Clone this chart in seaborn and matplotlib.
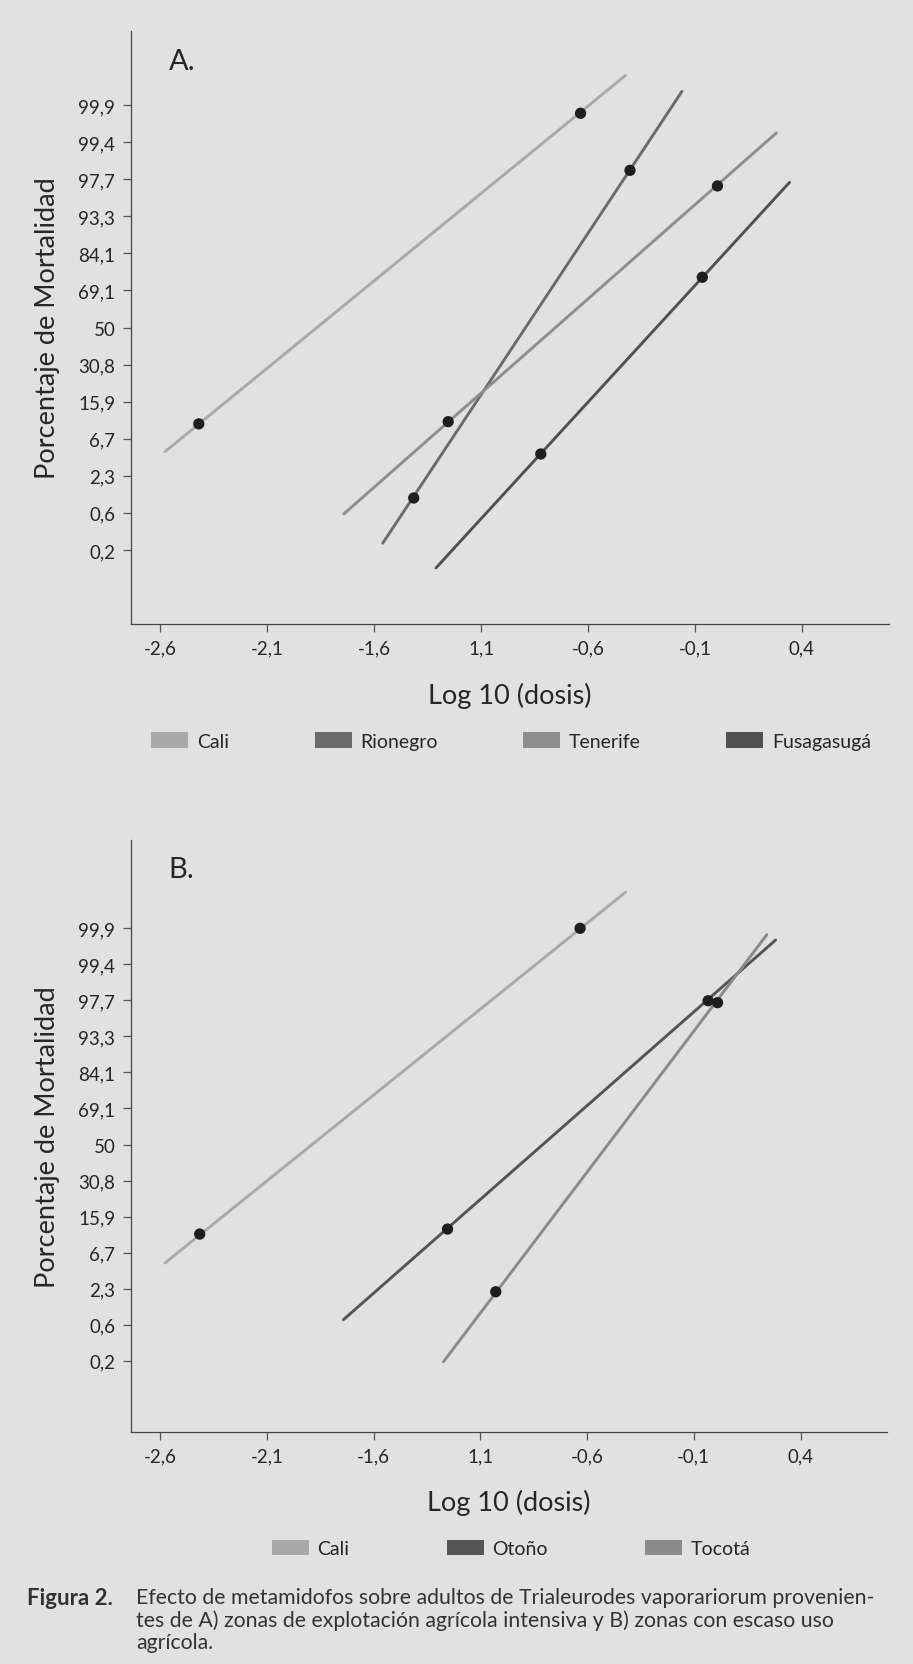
import pandas as pd
import seaborn as sns
from matplotlib import pyplot as plt
from matplotlib.patches import Patch

# probit scale: tick positions 2..8 (step 0.5) labelled with percentages
y_ticks = [2, 2.5, 3, 3.5, 4, 4.5, 5, 5.5, 6, 6.5, 7, 7.5, 8]
y_labels = ["0,2", "0,6", "2,3", "6,7", "15,9", "30,8", "50", "69,1",
            "84,1", "93,3", "97,7", "99,4", "99,9"]
x_ticks = [-2.6, -2.1, -1.6, -1.1, -0.6, -0.1, 0.4]
x_labels = ["-2,6", "-2,1", "-1,6", "1,1", "-0,6", "-0,1", "0,4"]

# panel A: fitted lines (start, end) and observed points
a_names = ["Cali", "Rionegro", "Tenerife", "Fusagasugá"]
a_colors = ["#a9a9a9", "#6b6b6b", "#8e8e8e", "#515151"]
a_line_x = [[-2.578, -0.425], [-1.56, -0.161], [-1.742, 0.280], [-1.311, 0.342]]
a_line_y = [[3.325, 8.40], [2.09, 8.185], [2.485, 7.623], [1.757, 6.958]]
a_pts_x = [[-2.42, -0.635], [-1.415, -0.404], [-1.254, 0.005], [-0.821, -0.066]]
a_pts_y = [[3.70, 7.89], [2.70, 7.12], [3.73, 6.91], [3.294, 5.678]]

# panel B
b_names = ["Cali", "Otoño", "Tocotá"]
b_colors = ["#a9a9a9", "#555555", "#8a8a8a"]
b_line_x = [[-2.578, -0.42], [-1.742, 0.283], [-1.273, 0.242]]
b_line_y = [[3.356, 8.50], [2.569, 7.837], [1.986, 7.911]]
b_pts_x = [[-2.415, -0.633], [-1.254, -0.033], [-1.028, 0.011]]
b_pts_y = [[3.758, 8.00], [3.827, 6.995], [2.957, 6.968]]

BG = "#e1e1e1"
TXT = "#262626"

sns.set_theme(style="ticks")
plt.rcParams["font.family"] = ["Lato", "DejaVu Sans"]
plt.rcParams["axes.facecolor"] = BG
plt.rcParams["figure.facecolor"] = BG
plt.rcParams["text.color"] = TXT
plt.rcParams["axes.labelcolor"] = TXT

TICK_FONT = ["Liberation Sans Narrow", "Lato", "DejaVu Sans"]


def long_table(names, xs, ys):
    rows = []
    for name, xx, yy in zip(names, xs, ys):
        for x, y in zip(xx, yy):
            rows.append({"serie": name, "x": x, "y": y})
    return pd.DataFrame(rows)


def draw_panel(ax, names, colors, line_x, line_y, pts_x, pts_y, tag, ylim, legend_y,
               colspace):
    lines = long_table(names, line_x, line_y)
    pts = long_table(names, pts_x, pts_y)
    sns.lineplot(data=lines, x="x", y="y", hue="serie", palette=colors,
                 hue_order=names, sort=False, estimator=None, linewidth=2.1,
                 legend=False, ax=ax)
    sns.scatterplot(data=pts, x="x", y="y", color="#1e1e1e", s=66,
                    edgecolor="none", zorder=5, legend=False, ax=ax)
    ax.set_xlim(-2.739, 0.807)
    ax.set_ylim(*ylim)
    ax.set_xticks(x_ticks)
    ax.set_xticklabels(x_labels, family=TICK_FONT, fontsize=13.5, color=TXT)
    ax.set_yticks(y_ticks)
    ax.set_yticklabels(y_labels, family=TICK_FONT, fontsize=13.5, color=TXT)
    ax.tick_params(axis="both", length=6, width=0.9, color="#555555", pad=5)
    sns.despine(ax=ax)
    for s in ["left", "bottom"]:
        ax.spines[s].set_color("#444444")
        ax.spines[s].set_linewidth(0.9)
    ax.set_xlabel("Log 10 (dosis)", fontsize=19.5)
    ax.set_ylabel("Porcentaje de Mortalidad", fontsize=19.5)
    ax.xaxis.set_label_coords(0.5, -0.097)
    ax.yaxis.set_label_coords(-0.093, 0.5)
    ax.text(0.05, 0.95, tag, transform=ax.transAxes, fontsize=21,
            va="center", ha="left", color=TXT)
    handles = [Patch(facecolor=c, edgecolor="none", label=n)
               for n, c in zip(names, colors)]
    ax.legend(handles=handles, ncol=len(names), loc="center",
              bbox_to_anchor=(0.56, legend_y), bbox_transform=ax.figure.transFigure,
              frameon=False, fontsize=14, handlelength=1.9, handleheight=0.85,
              handletextpad=0.45, columnspacing=colspace)


fig = plt.figure(figsize=(9.13, 16.65), dpi=100)
ax_a = fig.add_axes([0.143, 0.6246, 0.8307, 0.3562])
ax_b = fig.add_axes([0.143, 0.1395, 0.8290, 0.3556])

draw_panel(ax_a, a_names, a_colors, a_line_x, a_line_y, a_pts_x, a_pts_y,
           "A.", (1.0, 9.0), 0.5545, 4.4)
draw_panel(ax_b, b_names, b_colors, b_line_x, b_line_y, b_pts_x, b_pts_y,
           "B.", (1.015, 9.23), 0.0695, 5.0)

caption = ["Efecto de metamidofos sobre adultos de Trialeurodes vaporariorum provenien-",
           "tes de A) zonas de explotación agrícola intensiva y B) zonas con escaso uso",
           "agrícola."]
fig.text(0.030, 0.0402, "Figura 2.", fontsize=16, fontweight="bold", va="center",
         color="#333333")
for i, line in enumerate(caption):
    fig.text(0.149, 0.0402 - i * 0.0136, line, fontsize=15.3, va="center",
             color="#333333")

fig.savefig("out.png", dpi=100, facecolor=BG)
